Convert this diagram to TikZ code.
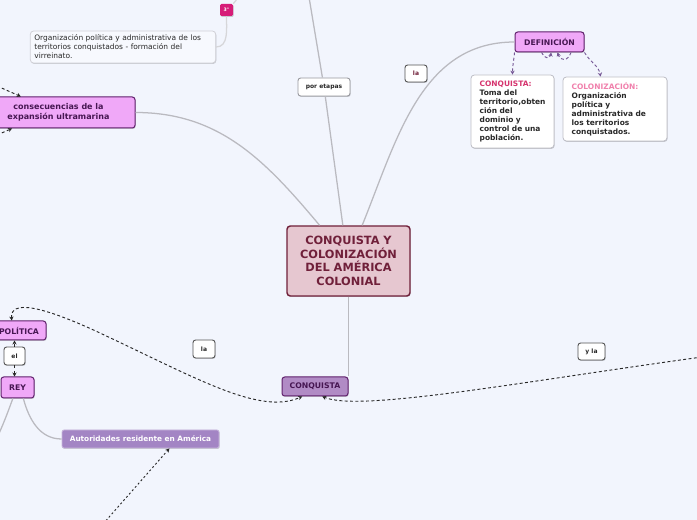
\documentclass[tikz,border=0pt]{standalone}
\usepackage{fontspec}
\setmainfont{DejaVu Sans}
\usepackage{tikz}
\usetikzlibrary{arrows.meta,positioning,calc,shadows}
\definecolor{paper}{RGB}{242,245,253}
\definecolor{wine}{RGB}{112,32,58}
\definecolor{rose}{RGB}{230,199,208}
\definecolor{orchid}{RGB}{240,168,248}
\definecolor{plum}{RGB}{96,32,108}
\definecolor{grape}{RGB}{70,22,82}
\definecolor{mauve}{RGB}{177,139,197}
\definecolor{lilac}{RGB}{163,133,196}
\definecolor{branchgray}{RGB}{186,186,192}
\definecolor{frame}{RGB}{190,190,198}
\definecolor{hotpink}{RGB}{214,52,110}
\definecolor{softpink}{RGB}{240,128,172}
\definecolor{magenta3}{RGB}{214,28,120}
\definecolor{linkpurple}{RGB}{118,88,150}
\definecolor{ink}{RGB}{40,40,40}
\tikzset{
  >={Stealth[length=3pt,width=3.2pt]},
  branch/.style={draw=branchgray,line width=0.95pt},
  link/.style={draw=ink,line width=0.7pt,dash pattern=on 2.2pt off 1.8pt,->},
  deflink/.style={link,draw=linkpurple},
  shade/.style={drop shadow={shadow xshift=0.5pt,shadow yshift=-0.7pt,fill=black,opacity=0.18}},
  hub/.style={shade,rounded corners=2.5pt,draw=wine,line width=1.1pt,fill=rose,text=wine,
              font=\bfseries\fontsize{8.5}{10.3}\selectfont,align=center,inner sep=0pt,
              minimum width=92.25pt,minimum height=52.5pt},
  topic/.style={shade,rounded corners=2pt,draw=plum,line width=0.75pt,fill=orchid,text=grape,
                font=\bfseries\fontsize{5.8}{7}\selectfont,align=center,inner sep=0pt},
  subtopic/.style={topic,fill=mauve},
  tag/.style={shade,rounded corners=2pt,draw=ink!80,line width=0.7pt,fill=white,text=ink,
              font=\bfseries\fontsize{4.5}{5.5}\selectfont,inner sep=0pt},
  card/.style={shade,rounded corners=2.5pt,draw=frame,line width=0.6pt,fill=white,text=ink,
               font=\bfseries\fontsize{5.6}{6.7}\selectfont,align=left,inner xsep=6.5pt,inner ysep=3pt}
}

\begin{document}
\begin{tikzpicture}[x=0.75pt,y=-0.75pt]
  \useasboundingbox (0,0) rectangle (697,520);
  \clip (0,0) rectangle (697,520);
  \fill[paper] (0,0) rectangle (697,520);

  % centre and first ring
  \node[hub] (hub) at (348.5,261) {CONQUISTA Y\\COLONIZACIÓN\\DEL AMÉRICA\\COLONIAL};
  \node[tag,draw=frame!80!black,minimum width=39pt,minimum height=13.5pt] (etapas) at (324,87) {por etapas};
  \node[tag,text=wine,minimum width=16.5pt,minimum height=12.75pt] (la1) at (416,73.5) {la};
  \node[topic,minimum width=51.75pt,minimum height=15pt] (defin) at (549.5,42) {DEFINICIÓN};
  \node[card,text width=49.25pt,minimum height=54.75pt] (conqdef) at (512.5,111.5)
    {\textcolor{hotpink}{CONQUISTA:}\\Toma del\\territorio,obten\\ción del\\dominio y\\control de una\\población.};
  \node[card,text width=65pt,minimum height=48pt] (colon) at (615,109)
    {\textcolor{softpink}{COLONIZACIÓN:}\\Organización\\política y\\administrativa de\\los territorios\\conquistados.};
  \node[topic,font=\bfseries\fontsize{6}{7.5}\selectfont,minimum width=114.75pt,minimum height=23.25pt]
    (conse) at (58.5,112.5) {consecuencias de la\\expansión ultramarina};
  \node[card,font=\fontsize{5.6}{6.75}\selectfont,draw=frame!70,fill=paper!60!white,
    inner xsep=3pt,text width=133pt,minimum height=24pt] (orgtext) at (123,47)
    {Organización política y administrativa de los\\territorios conquistados - formación del\\virreinato.};
  \node[shade,rounded corners=1pt,fill=magenta3,text=white,font=\bfseries\fontsize{3.5}{4}\selectfont,
    inner sep=0pt,minimum width=9.75pt,minimum height=9pt] (tercero) at (226.5,10) {3°};

  % lower half
  \node[subtopic,minimum width=49.5pt,minimum height=14.25pt] (conq2) at (315,386.5) {CONQUISTA};
  \node[tag,minimum width=16.5pt,minimum height=13.5pt] (la2) at (204,349) {la};
  \node[tag,minimum width=20.25pt,minimum height=12.75pt] (yla) at (591.5,351.5) {y la};
  \node[topic,minimum width=40.5pt,minimum height=14.25pt] (politica) at (19,330.5) {POLÍTICA};
  \node[tag,minimum width=15.75pt,minimum height=13.5pt] (el) at (14.5,356) {el};
  \node[topic,minimum width=24.75pt,minimum height=15.75pt] (rey) at (17.5,387.5) {REY};
  \node[shade,rounded corners=1.5pt,draw=lilac!60!white,line width=0.6pt,fill=lilac,text=white,
    font=\bfseries\fontsize{5.5}{6.5}\selectfont,inner sep=0pt,minimum width=117.75pt,minimum height=13.5pt]
    (autor) at (140.5,439) {Autoridades residente en América};

  % loose ends
  \coordinate (topin) at (309,-3);
  \coordinate (up3) at (238,-3);
  \coordinate (inA) at (-3,86);
  \coordinate (inB) at (-3,135);
  \coordinate (rightin) at (702,357);
  \coordinate (reyout) at (-4,440);
  \coordinate (autorin) at (103,524);

  % branches
  \draw[branch] (topin) -- (etapas);
  \draw[branch] (etapas) -- (hub.99);
  \draw[branch] (defin.west) to[out=180,in=68] (hub.69);
  \draw[branch] (conse.east) to[out=0,in=130] (hub.129);
  \draw[branch] (hub.south) -- (conq2.north east);
  \draw[branch,draw=branchgray!60] (tercero.south) to[out=-90,in=0] (orgtext.east);
  \draw[branch,draw=branchgray!60] (tercero.north east) to[out=70,in=-95] (up3);
  \draw[branch] (rey.-113) to[out=-110,in=65] (reyout);
  \draw[branch] (rey.-62) to[out=-75,in=180] (autor.west);

  % relations
  \draw[deflink] (defin.south west) to[out=-95,in=90] (conqdef.north);
  \draw[deflink] (defin.south east) to[out=-60,in=100] (colon.114);
  \draw[deflink] (defin.-127) to[out=-70,in=-100,looseness=1.8] (defin.-81);
  \draw[deflink] (defin.-26) to[out=-110,in=-70,looseness=1.8] (defin.-53);
  \draw[link] (inA) -- (conse.157);
  \draw[link] (inB) -- (conse.199);
  \draw[link,<->] (politica.126) .. controls (10,300) and (40,305) .. (100,333)
    .. controls (200,380) and (260,415) .. (conq2.218);
  \draw[link] (rightin) .. controls (520,382) and (360,412) .. (conq2.-54);
  \draw[link] (el) -- (el |- politica.south);
  \draw[link] (el) -- (el |- rey.north);
  \draw[link,dash pattern=on 1.5pt off 1.8pt] (autorin) -- (autor.-18);
\end{tikzpicture}
\end{document}
